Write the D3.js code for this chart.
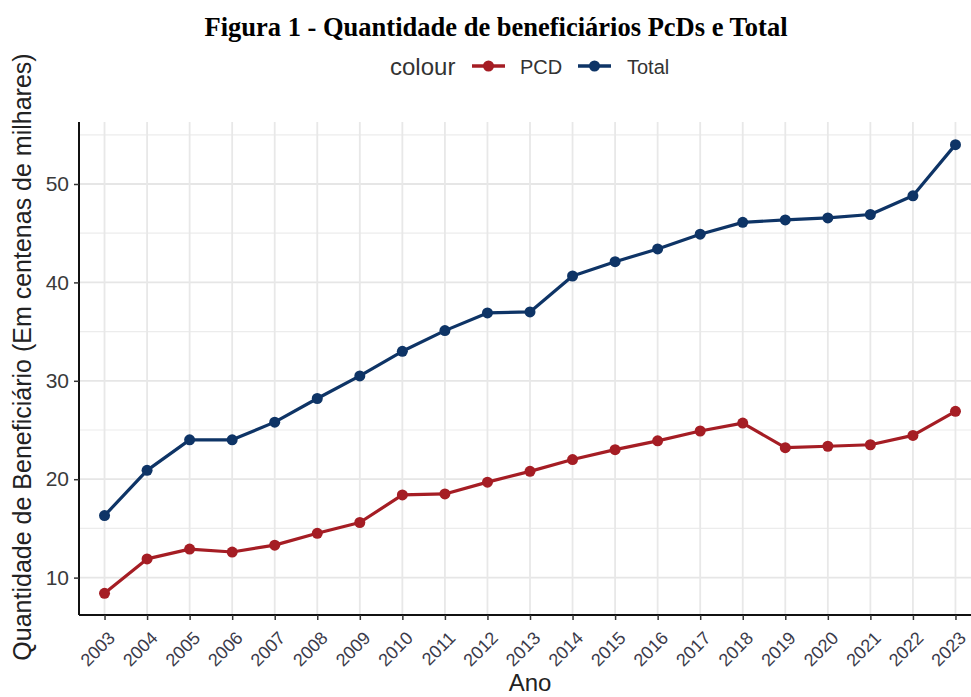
<!DOCTYPE html>
<html>
<head>
<meta charset="utf-8">
<script src="https://cdn.jsdelivr.net/npm/d3@7.9.0/dist/d3.min.js"></script>
<style>
  body { margin: 0; background: #fff; }
  svg { display: block; }
</style>
</head>
<body>
<div id="chart"></div>
<script>
// values (centenas de milhares)
const years = d3.range(2003, 2024);
const pcd = [8.4, 11.9, 12.9, 12.6, 13.3, 14.5, 15.6, 18.4, 18.5, 19.7, 20.8,
             22.0, 23.0, 23.9, 24.9, 25.7, 23.2, 23.35, 23.5, 24.45, 26.9];
const total = [16.3, 20.9, 24.0, 24.0, 25.8, 28.2, 30.5, 33.0, 35.1, 36.9, 37.0,
               40.65, 42.1, 43.4, 44.9, 46.1, 46.35, 46.55, 46.9, 48.8, 54.0];
const yTicks = [10, 20, 30, 40, 50];
const yMinor = [15, 25, 35, 45, 55];
const seriesNames = ["PCD", "Total"];
const seriesColors = ["#a51d24", "#0e3466"];

const width = 971;
const height = 697;
const panel = { left: 79, top: 122, right: 981, bottom: 615 };
const sans = "Liberation Sans, Arial, sans-serif";

const svg = d3.select("#chart").append("svg")
  .attr("width", width)
  .attr("height", height);

const x = d3.scaleLinear()
  .domain([2002.4, 2023.6])
  .range([panel.left, panel.right]);

const y = d3.scaleLinear()
  .domain([6.2, 56.3])
  .range([panel.bottom, panel.top]);

// grid
const grid = svg.append("g");
grid.selectAll("line.minor")
  .data(yMinor.filter((d) => y(d) > panel.top))
  .join("line")
  .attr("x1", panel.left).attr("x2", width)
  .attr("y1", (d) => y(d)).attr("y2", (d) => y(d))
  .attr("stroke", "#ececec").attr("stroke-width", 1.2);
grid.selectAll("line.major")
  .data(yTicks)
  .join("line")
  .attr("x1", panel.left).attr("x2", width)
  .attr("y1", (d) => y(d)).attr("y2", (d) => y(d))
  .attr("stroke", "#e6e6e6").attr("stroke-width", 1.8);
grid.selectAll("line.vert")
  .data(years)
  .join("line")
  .attr("x1", (d) => x(d)).attr("x2", (d) => x(d))
  .attr("y1", panel.top).attr("y2", panel.bottom)
  .attr("stroke", "#e8e8e8").attr("stroke-width", 1.8);

// axes
const xAxis = svg.append("g")
  .attr("transform", `translate(0,${panel.bottom})`)
  .call(d3.axisBottom(x).tickValues(years).tickFormat(d3.format("d")).tickSize(5).tickSizeOuter(0));
xAxis.select(".domain").attr("stroke", "#111").attr("stroke-width", 2).attr("d", `M${panel.left},0H${width}`);
xAxis.selectAll(".tick line").attr("stroke", "#333").attr("stroke-width", 1.5);
xAxis.selectAll(".tick text")
  .attr("font-family", sans)
  .attr("font-size", 18)
  .attr("fill", "#3a3a4a")
  .attr("text-anchor", "end")
  .attr("dy", "0.72em")
  .attr("transform", "translate(2,15) rotate(-45)")
  .attr("y", 0).attr("x", 0);

const yAxis = svg.append("g")
  .attr("transform", `translate(${panel.left},0)`)
  .call(d3.axisLeft(y).tickValues(yTicks).tickSize(5).tickSizeOuter(0));
yAxis.select(".domain").attr("stroke", "#111").attr("stroke-width", 2).attr("d", `M0,${panel.top}V${panel.bottom}`);
yAxis.selectAll(".tick line").attr("stroke", "#333").attr("stroke-width", 1.5);
yAxis.selectAll(".tick text")
  .attr("font-family", sans)
  .attr("font-size", 21)
  .attr("fill", "#3a3a3a")
  .attr("x", -10);

// series
const series = [pcd, total];
const line = d3.line().x((d, i) => x(years[i])).y((d) => y(d));
series.forEach((vals, k) => {
  svg.append("path")
    .datum(vals)
    .attr("d", line)
    .attr("fill", "none")
    .attr("stroke", seriesColors[k])
    .attr("stroke-width", 3.2)
    .attr("stroke-linejoin", "round");
  svg.append("g").selectAll("circle")
    .data(vals)
    .join("circle")
    .attr("cx", (d, i) => x(years[i]))
    .attr("cy", (d) => y(d))
    .attr("r", 5.5)
    .attr("fill", seriesColors[k]);
});

// title
svg.append("text")
  .attr("x", 496).attr("y", 36)
  .attr("text-anchor", "middle")
  .attr("font-family", "Liberation Serif, Times New Roman, serif")
  .attr("font-weight", "bold")
  .attr("font-size", 26.5)
  .attr("fill", "#000")
  .text("Figura 1 - Quantidade de beneficiários PcDs e Total");

// legend
const legend = svg.append("g").attr("font-family", sans).attr("fill", "#333");
legend.append("text").attr("x", 390).attr("y", 75).attr("font-size", 24).text("colour");
const keyX = [472, 578];
const labX = [520, 627];
seriesNames.forEach((name, k) => {
  legend.append("line")
    .attr("x1", keyX[k]).attr("x2", keyX[k] + 33)
    .attr("y1", 66).attr("y2", 66)
    .attr("stroke", seriesColors[k]).attr("stroke-width", 3.5);
  legend.append("circle")
    .attr("cx", keyX[k] + 16.5).attr("cy", 66).attr("r", 5.5)
    .attr("fill", seriesColors[k]);
  legend.append("text").attr("x", labX[k]).attr("y", 74).attr("font-size", 20).text(name);
});

// axis titles
svg.append("text")
  .attr("x", 530).attr("y", 691)
  .attr("text-anchor", "middle")
  .attr("font-family", sans)
  .attr("font-size", 24)
  .attr("fill", "#222")
  .text("Ano");

svg.append("text")
  .attr("transform", "translate(31,357) rotate(-90)")
  .attr("text-anchor", "middle")
  .attr("font-family", sans)
  .attr("font-size", 25)
  .attr("fill", "#222")
  .text("Quantidade de Beneficiário (Em centenas de milhares)");
</script>
</body>
</html>
